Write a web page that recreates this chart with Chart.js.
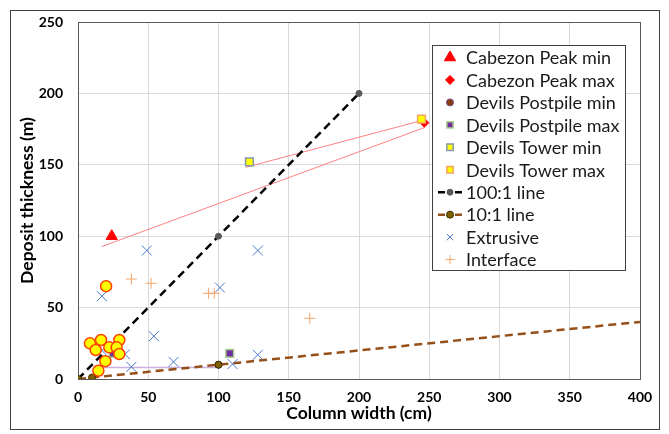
<!DOCTYPE html>
<html>
<head>
<meta charset="utf-8">
<script src="https://cdn.jsdelivr.net/npm/chart.js@4.4.1/dist/chart.umd.min.js"></script>
<style>
html,body{margin:0;padding:0;background:#fff;}
#wrap{position:relative;width:669px;height:434px;}
</style>
</head>
<body>
<div id="wrap"><canvas id="c" width="669" height="434"></canvas></div>
<script>
// ---- data ----
const xTicks = [0, 50, 100, 150, 200, 250, 300, 350, 400];
const yTicks = [0, 50, 100, 150, 200, 250];
const cabezonMin = [{x: 24, y: 100}];
const cabezonMax = [{x: 246.5, y: 179.5}];
const postpileMin = [{x: 14.5, y: 6}, {x: 100, y: 10}];
const postpileMax = [{x: 25, y: 18}, {x: 108, y: 18}];
const towerMin = [{x: 122, y: 152}];
const towerMax = [{x: 244.5, y: 182}];
const line100 = [{x: 0, y: 0}, {x: 100, y: 100}, {x: 200, y: 200}];
const line10 = [{x: 0, y: 0}, {x: 10, y: 1}, {x: 100, y: 10}, {x: 400, y: 40}];
const extrusive = [{x: 17, y: 58}, {x: 49, y: 90}, {x: 101, y: 64}, {x: 128, y: 90}, {x: 54, y: 30},
  {x: 68, y: 12}, {x: 110, y: 10.5}, {x: 128, y: 17}, {x: 33.5, y: 17.3}, {x: 38, y: 8.5}, {x: 17, y: 20}];
const interfaceData = [{x: 38, y: 70}, {x: 52, y: 67}, {x: 93, y: 60}, {x: 97, y: 60}, {x: 165, y: 42.5}];
const otherColumns = [{x: 20, y: 65}, {x: 8.5, y: 25}, {x: 16.4, y: 27.3}, {x: 12.6, y: 20.3}, {x: 22.3, y: 22.2},
  {x: 29.4, y: 27.3}, {x: 27.5, y: 22.2}, {x: 29.4, y: 17.5}, {x: 19.5, y: 12.5}, {x: 14.5, y: 5.8}];
const trendCabezon = [{x: 16.8, y: 92.7}, {x: 247, y: 176.2}];
const trendTower = [{x: 119.3, y: 148.2}, {x: 243.5, y: 180.7}];
const trendPostpile = [{x: 14.5, y: 8}, {x: 101, y: 8}];

const FONT = "Lato, 'Open Sans', 'Liberation Sans', sans-serif";

const datasets = [
  {label: 'trendCabezon', data: trendCabezon, showLine: true, borderColor: '#ff8080', borderWidth: 1, pointRadius: 0, order: 30},
  {label: 'trendTower', data: trendTower, showLine: true, borderColor: '#ff8080', borderWidth: 1, pointRadius: 0, order: 30},
  {label: 'trendPostpile', data: trendPostpile, showLine: true, borderColor: '#c9b0e3', borderWidth: 1.5, pointRadius: 0, order: 30},
  {label: 'Cabezon Peak min', legend: true, data: cabezonMin, pointStyle: 'triangle', pointRadius: 6.5, backgroundColor: '#ff0000', borderColor: '#ff0000', borderWidth: 1, order: 20},
  {label: 'Cabezon Peak max', legend: true, data: cabezonMax, pointStyle: 'rectRot', pointRadius: 4.5, backgroundColor: '#ff0000', borderColor: '#ff0000', borderWidth: 1, order: 19},
  {label: 'Devils Postpile min', legend: true, data: postpileMin, pointStyle: 'circle', pointRadius: 3.5, backgroundColor: '#843c0c', borderColor: '#7a4a8a', borderWidth: 1, order: 18},
  {label: 'Devils Postpile max', legend: true, data: postpileMax, pointStyle: 'rect', pointRadius: 5.5, backgroundColor: '#7030a0', borderColor: '#a9d18e', borderWidth: 1.5, order: 17},
  {label: 'Devils Tower min', legend: true, data: towerMin, pointStyle: 'rect', pointRadius: 5.5, backgroundColor: '#ffff00', borderColor: '#8497b0', borderWidth: 1.5, order: 16},
  {label: 'Devils Tower max', legend: true, data: towerMax, pointStyle: 'rect', pointRadius: 5.5, backgroundColor: '#ffff00', borderColor: '#f4a460', borderWidth: 1.5, order: 15},
  {label: '100:1 line', legend: true, data: line100, showLine: true, borderColor: '#000000', borderWidth: 2.5, borderDash: [8, 5],
    pointStyle: 'circle', pointRadius: 3, pointBackgroundColor: '#595959', pointBorderColor: '#595959', pointBorderWidth: 1, order: 14},
  {label: '10:1 line', legend: true, data: line10, showLine: true, borderColor: '#954f19', borderWidth: 2.5, borderDash: [8, 5],
    pointStyle: 'circle', pointRadius: [3.5, 3.5, 3.5, 0], pointBackgroundColor: '#806000', pointBorderColor: '#3b2c00', pointBorderWidth: 1, order: 13},
  {label: 'Extrusive', legend: true, data: extrusive, pointStyle: 'crossRot', pointRadius: 7, backgroundColor: '#4a76cc', borderColor: '#4a76cc', borderWidth: 1, order: 12},
  {label: 'Interface', legend: true, data: interfaceData, pointStyle: 'cross', pointRadius: 5.5, backgroundColor: '#f5a36b', borderColor: '#f5a36b', borderWidth: 1, order: 11},
  {label: 'other', data: otherColumns, pointStyle: 'circle', pointRadius: 5.5, backgroundColor: '#ffff00', borderColor: '#ff4000', borderWidth: 1.5, order: 1}
];

const frame = {
  id: 'frame',
  beforeDatasetsDraw(chart) {
    const {ctx, chartArea: a} = chart;
    ctx.save();
    ctx.strokeStyle = '#595959';
    ctx.lineWidth = 1;
    ctx.strokeRect(Math.round(a.left) + 0.5, Math.round(a.top) + 0.5, Math.round(a.right - a.left), Math.round(a.bottom - a.top));
    ctx.restore();
  },
  afterDraw(chart) {
    const ctx = chart.ctx;
    ctx.save();
    ctx.strokeStyle = '#404040';
    ctx.lineWidth = 1;
    ctx.strokeRect(10.5, 10.5, 649, 419);
    // legend
    const bx = 432.5, by = 45.5, bw = 193, bh = 225;
    ctx.fillStyle = '#ffffff';
    ctx.fillRect(bx, by, bw, bh);
    ctx.strokeStyle = '#404040';
    ctx.strokeRect(bx, by, bw, bh);
    const items = chart.data.datasets.filter(d => d.legend);
    items.forEach((ds, i) => {
      const cy = 57.5 + i * 22.45;
      const mx = 450;
      if (ds.showLine) {
        ctx.save();
        ctx.strokeStyle = ds.borderColor;
        ctx.lineWidth = 2.5;
        ctx.beginPath();
        ctx.moveTo(438, cy); ctx.lineTo(445, cy);
        ctx.moveTo(455, cy); ctx.lineTo(462, cy);
        ctx.stroke();
        ctx.restore();
      }
      const bg = ds.pointBackgroundColor || ds.backgroundColor;
      const bc = ds.pointBorderColor || ds.borderColor;
      const bwid = ds.pointBorderWidth || ds.borderWidth || 1;
      let r = Array.isArray(ds.pointRadius) ? ds.pointRadius[0] : ds.pointRadius;
      if (ds.pointStyle === 'crossRot' || ds.pointStyle === 'cross') r = 4.5;
      if (ds.pointStyle === 'rect') r = 4.5;
      ctx.save();
      ctx.fillStyle = bg; ctx.strokeStyle = bc; ctx.lineWidth = bwid;
      Chart.helpers.drawPoint(ctx, {pointStyle: ds.pointStyle, radius: r, borderWidth: bwid, rotation: 0}, mx, cy);
      ctx.restore();
      ctx.fillStyle = '#1a1a1a';
      ctx.font = '18px ' + FONT;
      ctx.textBaseline = 'middle';
      ctx.textAlign = 'left';
      ctx.fillText(ds.label, 466, cy + 1);
    });
    ctx.restore();
  }
};

new Chart(document.getElementById('c'), {
  type: 'scatter',
  data: {datasets},
  options: {
    responsive: false,
    animation: false,
    events: [],
    layout: {padding: {left: 0, top: 22, right: 29, bottom: 0}},
    plugins: {legend: {display: false}, tooltip: {enabled: false}},
    scales: {
      x: {
        type: 'linear', min: 0, max: 400,
        afterBuildTicks: s => { s.ticks = xTicks.map(v => ({value: v})); },
        afterFit: s => { s.height = 55; s.paddingLeft = 0; s.paddingRight = 0; },
        grid: {color: '#d9d9d9', drawTicks: false},
        border: {display: false},
        ticks: {padding: 10, color: '#000', font: {family: FONT, size: 14, weight: 'bold'}},
        title: {display: true, text: 'Column width (cm)', color: '#000', font: {family: FONT, size: 17.5, weight: 'bold'}, padding: {top: 0, bottom: 10}}
      },
      y: {
        type: 'linear', min: 0, max: 250,
        afterBuildTicks: s => { s.ticks = yTicks.map(v => ({value: v})); },
        afterFit: s => { s.width = 78; s.paddingTop = 0; s.paddingBottom = 0; },
        grid: {color: '#d9d9d9', drawTicks: false},
        border: {display: false},
        ticks: {padding: 15, color: '#000', font: {family: FONT, size: 14, weight: 'bold'}},
        title: {display: true, text: 'Deposit thickness (m)', color: '#000', font: {family: FONT, size: 17.5, weight: 'bold'}, padding: {top: 17, bottom: 0}}
      }
    }
  },
  plugins: [frame]
});
</script>
</body>
</html>
